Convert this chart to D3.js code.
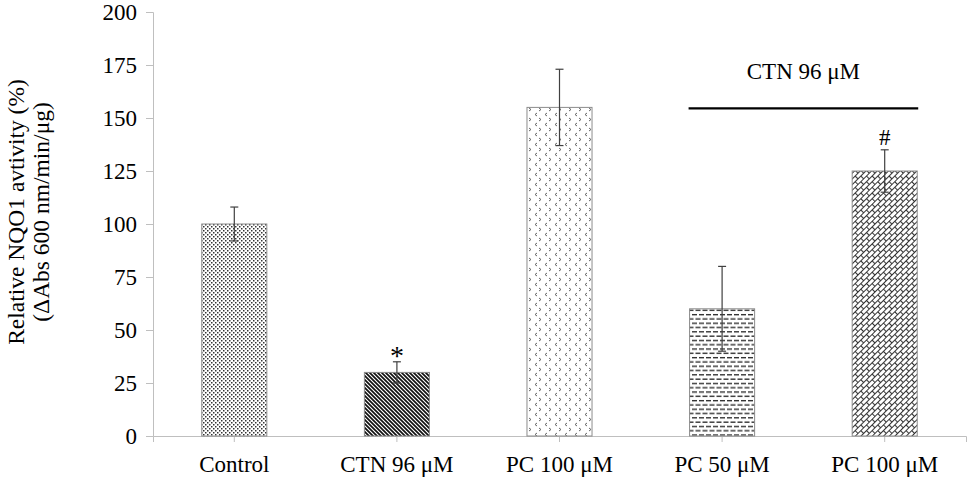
<!DOCTYPE html>
<html>
<head>
<meta charset="utf-8">
<script src="https://cdn.jsdelivr.net/npm/d3@7"></script>
<style>
  body { margin: 0; background: #fff; }
  text { font-family: "Liberation Serif", "Times New Roman", serif; fill: #000; }
</style>
</head>
<body>
<div id="chart"></div>
<script>
// DATA
const groups = ["Control", "CTN 96 μM", "PC 100 μM", "PC 50 μM", "PC 100 μM"];
const values = [100, 30, 155, 60, 125];
const errors = [8, 5, 18, 20, 10];
const marks = ["", "*", "", "", "#"];
const patterns = ["pDots", "pStripes", "pArrows", "pDashes", "pBrick"];
const yTicks = [0, 25, 50, 75, 100, 125, 150, 175, 200];
const bracketLabel = "CTN 96 μM";
const bracketGroups = [3, 4];

const margin = { top: 12, right: 4, bottom: 45, left: 153 };
const width = 970 - margin.left - margin.right;
const height = 481 - margin.top - margin.bottom;

const svgRoot = d3.select("#chart")
    .append("svg")
    .attr("width", 970)
    .attr("height", 481);

// fill patterns (hatching like the original)
const defs = svgRoot.append("defs");
function pattern(id, w, h) {
    const p = defs.append("pattern")
        .attr("id", id)
        .attr("patternUnits", "userSpaceOnUse")
        .attr("width", w)
        .attr("height", h);
    p.append("rect").attr("width", w).attr("height", h).attr("fill", "#fff");
    return p;
}

// dotted grid
const pd = pattern("pDots", 4, 4);
pd.append("rect").attr("x", 0).attr("y", 0).attr("width", 1.5).attr("height", 1.5).attr("fill", "#333");
pd.append("rect").attr("x", 2).attr("y", 2).attr("width", 1.5).attr("height", 1.5).attr("fill", "#333");

// dense downward diagonal
const ps = pattern("pStripes", 4, 4);
ps.append("path")
    .attr("d", "M-1,-1L5,5M-1,3L1,5M3,-1L5,1")
    .attr("stroke", "#111")
    .attr("stroke-width", 1.7);

// sparse small arrows
const pa = pattern("pArrows", 10, 10);
pa.append("path")
    .attr("d", "M4,1L2,2.5L4,4M6,6L8,7.5L6,9")
    .attr("stroke", "#555")
    .attr("stroke-width", 0.9)
    .attr("fill", "none");

// horizontal dashes
const ph = pattern("pDashes", 14, 8.6);
ph.append("rect").attr("x", 0).attr("y", 1).attr("width", 5).attr("height", 1.3).attr("fill", "#222");
ph.append("rect").attr("x", 7).attr("y", 1).attr("width", 5).attr("height", 1.3).attr("fill", "#222");
ph.append("rect").attr("x", 3.5).attr("y", 5.3).attr("width", 5).attr("height", 1.3).attr("fill", "#222");
ph.append("rect").attr("x", 10.5).attr("y", 5.3).attr("width", 5).attr("height", 1.3).attr("fill", "#222");
ph.append("rect").attr("x", -3.5).attr("y", 5.3).attr("width", 5).attr("height", 1.3).attr("fill", "#222");

// diagonal brick (brick rows rotated to run up-right)
const pb = pattern("pBrick", 8, 8).attr("patternTransform", "rotate(-45)");
pb.append("path")
    .attr("d", "M0,0.5H8M0,4.5H8M0.5,0.5V4.5M4.5,4.5V8.5")
    .attr("stroke", "#333")
    .attr("stroke-width", 1.1)
    .attr("fill", "none");

const svg = svgRoot.append("g")
    .attr("transform", `translate(${margin.left},${margin.top})`);

// SCALES
const x = d3.scaleBand()
    .domain(d3.range(groups.length))
    .range([0, width])
    .paddingInner(0.6)
    .paddingOuter(0.3);

const y = d3.scaleLinear()
    .domain([0, 200])
    .range([height, 0]);

// AXES
const yAxis = svg.append("g")
    .call(d3.axisLeft(y).tickValues(yTicks).tickSize(7).tickPadding(9));
yAxis.select(".domain").attr("stroke", "#bfbfbf");
yAxis.selectAll(".tick line").attr("stroke", "#bfbfbf");
yAxis.selectAll(".tick text")
    .attr("font-family", "Liberation Serif")
    .attr("font-size", 23)
    .attr("fill", "#000");

const xAxis = svg.append("g")
    .attr("transform", `translate(0,${height})`)
    .call(d3.axisBottom(x).tickFormat(i => groups[i]).tickSizeInner(6).tickSizeOuter(6));
xAxis.select(".domain").attr("stroke", "#bfbfbf");
xAxis.selectAll(".tick line").attr("stroke", "#bfbfbf");
xAxis.selectAll(".tick text")
    .attr("font-family", "Liberation Serif")
    .attr("font-size", 23)
    .attr("fill", "#000")
    .attr("y", 20)
    .attr("dy", "0.71em");

// BARS
svg.selectAll(".bar")
    .data(values)
    .enter()
    .append("rect")
    .attr("class", "bar")
    .attr("x", (d, i) => x(i))
    .attr("y", d => y(d))
    .attr("width", x.bandwidth())
    .attr("height", d => height - y(d))
    .attr("fill", (d, i) => `url(#${patterns[i]})`)
    .attr("stroke", "#8c8c8c")
    .attr("stroke-width", 1);

// ERROR BARS
const cap = 4;
const eb = svg.selectAll(".err")
    .data(values)
    .enter()
    .append("g")
    .attr("class", "err")
    .attr("stroke", "#404040")
    .attr("stroke-width", 1.2);
eb.append("line")
    .attr("x1", (d, i) => x(i) + x.bandwidth() / 2)
    .attr("x2", (d, i) => x(i) + x.bandwidth() / 2)
    .attr("y1", (d, i) => y(d - errors[i]))
    .attr("y2", (d, i) => y(d + errors[i]));
eb.append("line")
    .attr("x1", (d, i) => x(i) + x.bandwidth() / 2 - cap)
    .attr("x2", (d, i) => x(i) + x.bandwidth() / 2 + cap)
    .attr("y1", (d, i) => y(d + errors[i]))
    .attr("y2", (d, i) => y(d + errors[i]));
eb.append("line")
    .attr("x1", (d, i) => x(i) + x.bandwidth() / 2 - cap)
    .attr("x2", (d, i) => x(i) + x.bandwidth() / 2 + cap)
    .attr("y1", (d, i) => y(d - errors[i]))
    .attr("y2", (d, i) => y(d - errors[i]));

// SIGNIFICANCE MARKS
svg.selectAll(".mark")
    .data(values)
    .enter()
    .append("text")
    .attr("class", "mark")
    .attr("text-anchor", "middle")
    .attr("font-size", (d, i) => marks[i] === "*" ? 28 : 23)
    .attr("x", (d, i) => x(i) + x.bandwidth() / 2)
    .attr("y", (d, i) => y(d + errors[i]) - (marks[i] === "*" ? -3 : 5))
    .text((d, i) => marks[i]);

// BRACKET
const bx1 = x(bracketGroups[0]) - 1;
const bx2 = x(bracketGroups[1]) + x.bandwidth() + 1;
svg.append("line")
    .attr("x1", bx1)
    .attr("x2", bx2)
    .attr("y1", y(154.5))
    .attr("y2", y(154.5))
    .attr("stroke", "#000")
    .attr("stroke-width", 2.2);
svg.append("text")
    .attr("text-anchor", "middle")
    .attr("font-size", 23)
    .attr("x", (bx1 + bx2) / 2)
    .attr("y", y(168.5))
    .text(bracketLabel);

// Y LABEL
const yl = svgRoot.append("text")
    .attr("text-anchor", "middle")
    .attr("font-size", 23.5)
    .attr("transform", `translate(24,${margin.top + 200}) rotate(-90)`);
yl.append("tspan").attr("x", 0).attr("y", 0).text("Relative NQO1 avtivity (%)");
yl.append("tspan").attr("x", 0).attr("y", 25).text("(ΔAbs 600 nm/min/μg)");
</script>
</body>
</html>
